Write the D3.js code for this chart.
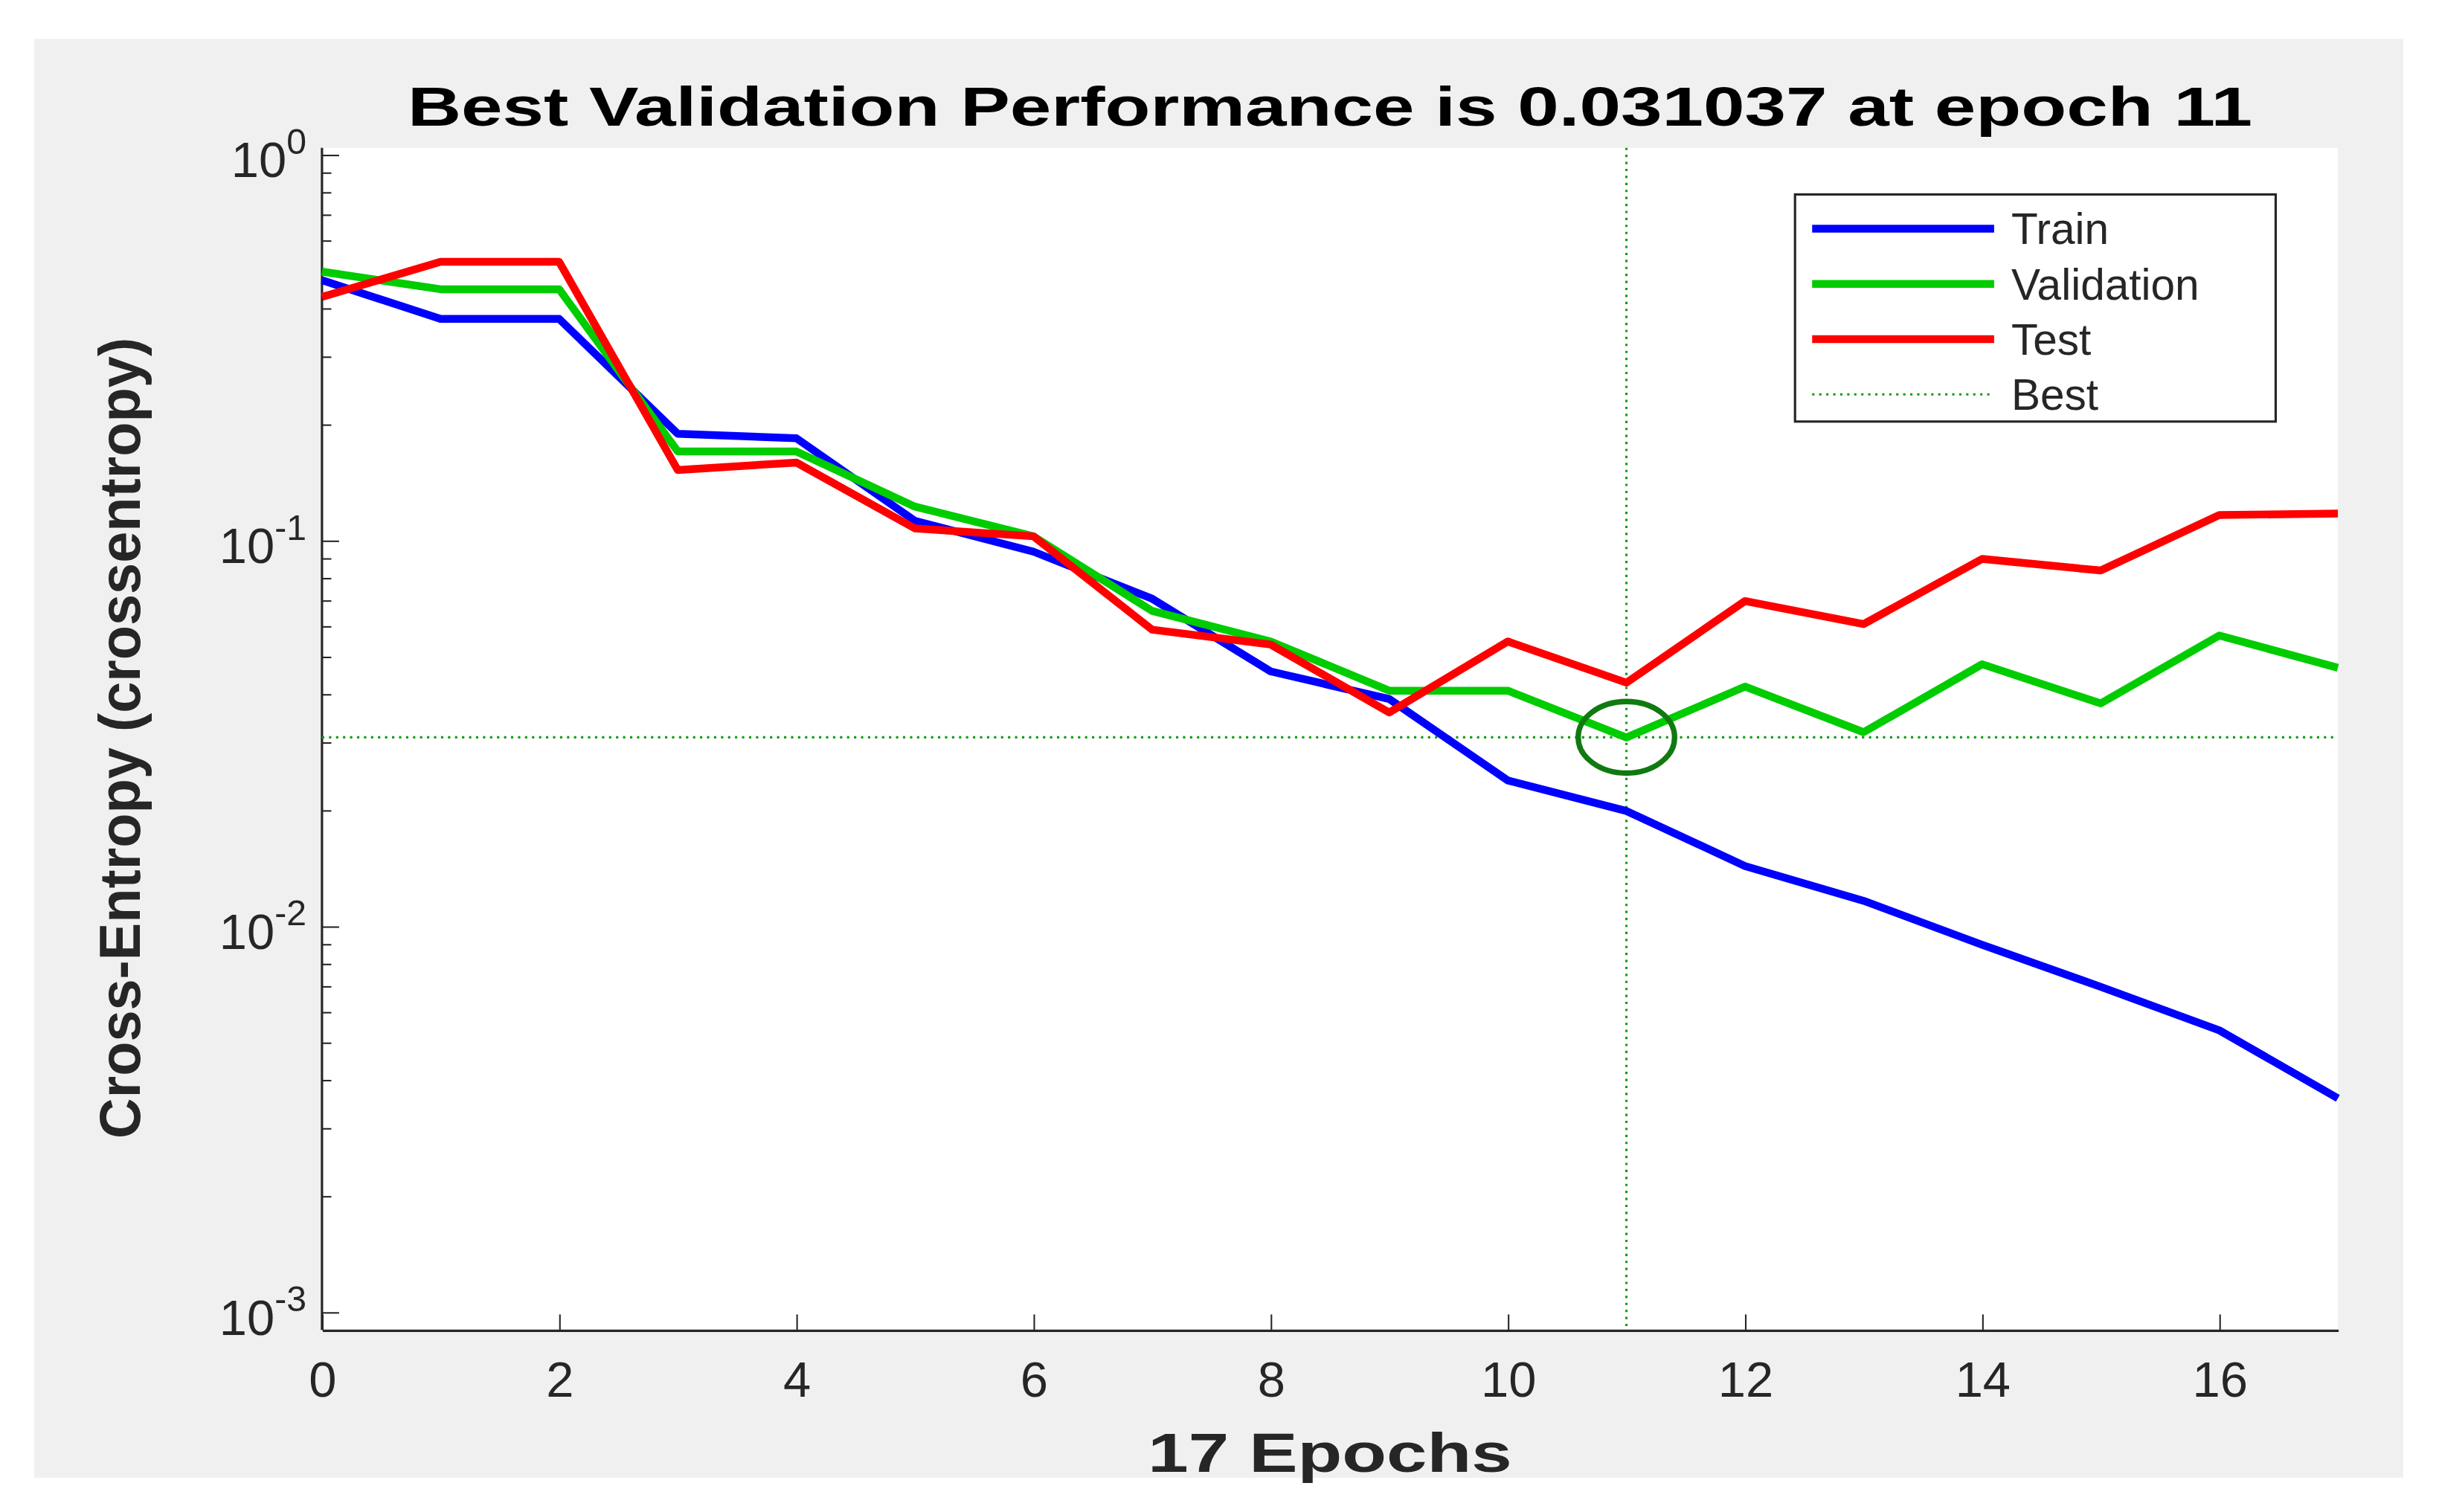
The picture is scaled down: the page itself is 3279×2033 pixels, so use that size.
<!DOCTYPE html>
<html><head><meta charset="utf-8">
<script src="https://cdn.jsdelivr.net/npm/d3@7"></script>
<style>body{margin:0;background:#fff;} svg{display:block;}</style>
</head><body><svg></svg>
<script>
var epochs = d3.range(0, 18);
var trainVals = [0.475,0.377,0.377,0.19,0.185,0.113,0.094,0.071,0.046,0.039,0.024,0.020,0.0144,0.0117,0.0090,0.0070,0.0054,0.0036];
var validVals = [0.50,0.45,0.45,0.171,0.171,0.123,0.103,0.066,0.055,0.041,0.041,0.031,0.042,0.032,0.048,0.038,0.057,0.047];
var testVals  = [0.43,0.53,0.53,0.153,0.16,0.108,0.103,0.059,0.054,0.036,0.055,0.043,0.070,0.061,0.090,0.084,0.117,0.118];
var xTicks = [0,2,4,6,8,10,12,14,16];
var yExps = [0,-1,-2,-3];
var bestEpoch = 11, bestVal = 0.031037;

var svg = d3.select("svg")
  .attr("width", 3279).attr("height", 2033)
  .attr("viewBox", "0 0 1568 972")
  .attr("preserveAspectRatio", "none")
  .style("font-family", "Arial, 'Liberation Sans', sans-serif");

svg.append("rect").attr("x",22).attr("y",25).attr("width",1523).attr("height",925).attr("fill","#f0f0f0");

var margins = {left: 207, right: 1503, top: 95, bottom: 855};
svg.append("rect").attr("x",margins.left).attr("y",margins.top)
  .attr("width",margins.right-margins.left).attr("height",margins.bottom-margins.top).attr("fill","#fff");

var xScale = d3.scaleLinear().domain([0,17]).range([margins.left, margins.right]);
var yScale = d3.scaleLog().domain([0.000903, 1.047]).range([margins.bottom, margins.top]);

// x axis
var xAxis = svg.append("g").attr("transform","translate(0,"+margins.bottom+")")
  .call(d3.axisBottom(xScale).tickValues(xTicks).tickSizeInner(-10).tickSizeOuter(0).tickPadding(20));
xAxis.select(".domain").attr("stroke","#262626").attr("stroke-width",1.5);
xAxis.selectAll("line").attr("stroke","#262626");
xAxis.selectAll("text").style("font-size","32px").attr("fill","#262626");

// y axis, minor ticks inside
var minor = [];
[-3,-2,-1].forEach(function(e){ for (var k=2;k<=9;k++) minor.push(k*Math.pow(10,e)); });
var yg = svg.append("g").attr("transform","translate("+margins.left+",0)");
yg.append("line").attr("x1",0).attr("x2",0).attr("y1",margins.top).attr("y2",margins.bottom).attr("stroke","#262626").attr("stroke-width",1.5);
yg.selectAll(".minor").data(minor).enter().append("line")
  .attr("x1",0).attr("x2",6).attr("y1",function(d){return yScale(d);}).attr("y2",function(d){return yScale(d);})
  .attr("stroke","#262626");
yg.selectAll(".major").data(yExps).enter().append("line")
  .attr("x1",0).attr("x2",11).attr("y1",function(d){return yScale(Math.pow(10,d));}).attr("y2",function(d){return yScale(Math.pow(10,d));})
  .attr("stroke","#262626");
var ylab = yg.selectAll(".lab").data(yExps).enter().append("text")
  .attr("x",-10).attr("y",function(d){return yScale(Math.pow(10,d))+14;})
  .attr("text-anchor","end").attr("fill","#262626").style("font-size","32px");
ylab.append("tspan").text("10");
ylab.append("tspan").attr("dy",-15).style("font-size","23px").text(function(d){return d;});

// best lines
svg.append("line").attr("x1",xScale(bestEpoch)).attr("x2",xScale(bestEpoch)).attr("y1",margins.top).attr("y2",margins.bottom)
  .attr("stroke","#1a9a1a").attr("stroke-width",1.5).attr("stroke-dasharray","1.5,3");
svg.append("line").attr("x1",margins.left).attr("x2",margins.right).attr("y1",yScale(bestVal)).attr("y2",yScale(bestVal))
  .attr("stroke","#1a9a1a").attr("stroke-width",1.5).attr("stroke-dasharray","1.5,3");

var line = d3.line().x(function(d,i){return xScale(epochs[i]);}).y(function(d){return yScale(d);});
var series = [{vals: trainVals, color:"#0000ff", name:"Train"},
              {vals: validVals, color:"#00cc00", name:"Validation"},
              {vals: testVals, color:"#ff0000", name:"Test"}];
series.forEach(function(s){
  svg.append("path").datum(s.vals).attr("d",line).attr("fill","none").attr("stroke",s.color).attr("stroke-width",5).attr("stroke-linejoin","round");
});

svg.append("ellipse").attr("cx",xScale(bestEpoch)).attr("cy",yScale(bestVal)).attr("rx",31).attr("ry",23)
  .attr("fill","none").attr("stroke","#107a10").attr("stroke-width",3.5);

// legend
var leg = svg.append("g");
leg.append("rect").attr("x",1154).attr("y",125).attr("width",309).attr("height",146).attr("fill","#fff").attr("stroke","#262626").attr("stroke-width",1.5);
series.concat([{name:"Best", color:"#1a9a1a", dotted:true}]).forEach(function(s,i){
  var y = 147 + i*35.5;
  leg.append("line").attr("x1",1165).attr("x2",1282).attr("y1",y).attr("y2",y)
    .attr("stroke",s.color).attr("stroke-width", s.dotted ? 1.5 : 5).attr("stroke-dasharray", s.dotted ? "1.5,3" : null);
  leg.append("text").attr("x",1293).attr("y",y+10).text(s.name).attr("fill","#262626").style("font-size","28px");
});

svg.append("text").attr("x",262).attr("y",81).attr("textLength",1186).attr("lengthAdjust","spacingAndGlyphs")
  .style("font-size","35px").style("font-weight","bold").text("Best Validation Performance is 0.031037 at epoch 11");
svg.append("text").attr("x",738).attr("y",946).attr("textLength",234).attr("lengthAdjust","spacingAndGlyphs")
  .style("font-size","35px").style("font-weight","bold").attr("fill","#262626").text("17 Epochs");
svg.append("text").attr("transform","translate(90,732) rotate(-90)").attr("textLength",515).attr("lengthAdjust","spacingAndGlyphs")
  .style("font-size","37px").style("font-weight","bold").attr("fill","#262626").text("Cross-Entropy  (crossentropy)");
</script></body></html>
